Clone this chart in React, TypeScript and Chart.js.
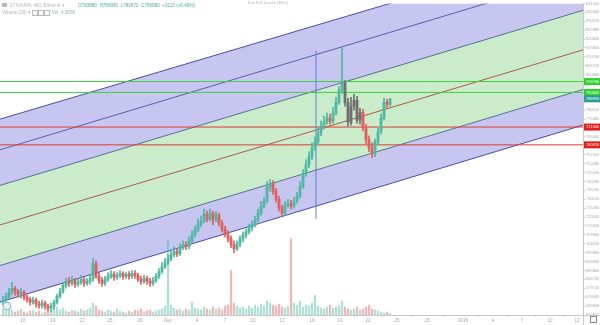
import React, { useEffect, useRef } from "react";
import { Chart, registerables } from "chart.js";

Chart.register(...registerables);

// ---- Candles (ETH/KRW, 8h) ----
const OPEN = [
  671880, 673000, 674680, 677480, 679720, 678040, 676360, 677480, 674680, 673560,
  671880, 673000, 670760, 670200, 671320, 669640, 668520, 669640, 671880, 675240,
  678040, 681400, 683640, 682520, 684200, 681960, 683080, 684760, 682520, 683640,
  685320, 693720, 686440, 684200, 682520, 684760, 686440, 687560, 685880, 687000,
  688120, 686440, 687560, 686440, 688120, 687000, 684760, 683640, 685320, 683640,
  682520, 684200, 686440, 689240, 692040, 694280, 696520, 698760, 700440, 699320,
  702680, 704360, 703240, 706600, 709960, 712760, 715560, 717800, 721720, 718920,
  722280, 718360, 721160, 716680, 713320, 710520, 707720, 704360, 702120, 704920,
  707720, 709960, 711640, 713880, 715560, 718360, 722280, 726200, 729000, 736840,
  739080, 734600, 730120, 725080, 722280, 726760, 727880, 726200, 729000, 731800,
  737400, 744680, 749720, 754200, 759240, 762600, 767640, 771560, 773800, 776040,
  774360, 778840, 785000, 791720, 796200, 785000, 773800, 782760, 786120, 774920,
  779400, 770440, 763720, 759240, 755880, 762600, 768200, 776040, 785000, 783880,
];
const HIGH = [
  675240, 676920, 679720, 683080, 680840, 679160, 679720, 678600, 675800, 674680,
  674680, 674120, 672440, 673000, 672440, 670760, 671320, 673000, 676360, 679720,
  683080, 685320, 685880, 686440, 685320, 684760, 687000, 685880, 685320, 687560,
  696520, 695400, 688680, 685880, 686440, 688680, 689800, 689240, 688680, 689800,
  689240, 688680, 689240, 689800, 689800, 688120, 686440, 687000, 686440, 685320,
  685880, 688120, 690920, 694280, 696520, 698760, 701000, 703240, 702120, 704920,
  706600, 706040, 708840, 712200, 715000, 718920, 720600, 724520, 723400, 724520,
  723400, 723400, 722280, 718360, 715000, 712200, 709400, 706600, 706600, 709400,
  711640, 713320, 716120, 717800, 720600, 724520, 729000, 731240, 740200, 741320,
  740760, 736280, 731800, 726760, 729000, 730120, 729560, 731240, 734040, 740200,
  746920, 752520, 757000, 762040, 765400, 770440, 774360, 777160, 778840, 778280,
  782200, 787800, 793960, 816360, 797320, 787240, 787800, 789480, 788360, 781640,
  781080, 772680, 765960, 762040, 764280, 770440, 778280, 787240, 786680, 786990,
];
const LOW = [
  670200, 671320, 673560, 676360, 675800, 674680, 674120, 673000, 671880, 670200,
  670760, 669080, 668520, 668520, 667960, 666840, 666280, 667960, 670760, 674120,
  676920, 679720, 680840, 681400, 680280, 680840, 681960, 680840, 681400, 681960,
  683640, 685320, 682520, 680840, 681400, 683640, 685320, 684200, 684760, 685880,
  684760, 685320, 684760, 685320, 685320, 683640, 681960, 682520, 681960, 680840,
  681400, 683080, 685320, 688120, 690920, 693160, 695400, 697640, 697640, 698200,
  701560, 701560, 702120, 705480, 708840, 711640, 714440, 716680, 717240, 717800,
  715560, 717240, 715000, 711640, 708840, 706040, 702680, 699880, 701000, 703240,
  706040, 708280, 710520, 712200, 714440, 717240, 721160, 725080, 727880, 734600,
  732920, 728440, 723400, 720600, 721160, 725640, 724520, 725080, 727880, 730680,
  736280, 743000, 748040, 752520, 757560, 760920, 765960, 769880, 772680, 772680,
  773240, 777720, 783880, 790040, 782760, 771560, 772120, 780520, 773240, 772680,
  768760, 761480, 757000, 753640, 754200, 760920, 767080, 774920, 781640, 782670,
];
const CLOSE = [
  673000, 674680, 677480, 679720, 678040, 676360, 677480, 674680, 673560, 671880,
  673000, 670760, 670200, 671320, 669640, 668520, 669640, 671880, 675240, 678040,
  681400, 683640, 682520, 684200, 681960, 683080, 684760, 682520, 683640, 685320,
  693720, 686440, 684200, 682520, 684760, 686440, 687560, 685880, 687000, 688120,
  686440, 687560, 686440, 688120, 687000, 684760, 683640, 685320, 683640, 682520,
  684200, 686440, 689240, 692040, 694280, 696520, 698760, 700440, 699320, 702680,
  704360, 703240, 706600, 709960, 712760, 715560, 717800, 721720, 718920, 722280,
  718360, 721160, 716680, 713320, 710520, 707720, 704360, 702120, 704920, 707720,
  709960, 711640, 713880, 715560, 718360, 722280, 726200, 729000, 736840, 739080,
  734600, 730120, 725080, 722280, 726760, 727880, 726200, 729000, 731800, 737400,
  744680, 749720, 754200, 759240, 762600, 767640, 771560, 773800, 776040, 774360,
  778840, 785000, 791720, 796200, 785000, 773800, 782760, 786120, 774920, 779400,
  770440, 763720, 759240, 755880, 762600, 768200, 776040, 785000, 783880, 786990,
];
const VOLUME = [
  60, 40, 80, 50, 30, 40, 60, 30, 20, 40,
  50, 30, 40, 20, 30, 50, 40, 60, 80, 50,
  70, 40, 30, 50, 40, 30, 60, 40, 50, 70,
  120, 90, 50, 40, 30, 50, 40, 30, 60, 40,
  30, 20, 40, 30, 50, 40, 60, 30, 40, 50,
  30, 40, 50, 60, 90, 750, 100, 70, 50, 60,
  40, 60, 50, 130, 70, 60, 50, 80, 60, 50,
  80, 60, 70, 50, 90, 100, 450, 120, 90, 70,
  80, 60, 90, 70, 100, 80, 110, 90, 140, 120,
  100, 90, 110, 80, 70, 90, 770, 120, 100, 140,
  80, 100, 90, 120, 200, 90, 70, 60, 80, 100,
  70, 80, 90, 140, 80, 60, 50, 60, 80, 50,
  60, 80, 100, 60, 50, 40, 30, 20, 30, 20,
];

// ---- Drawings (channel lines: value at left edge, value at right edge) ----
const CHANNEL_X = [-1, 193.33];
const CH_OUTER = [775480, 873420];
const CH_TOP = [758120, 857520];
const CH_UPPER = [737960, 837080];
const CH_MID = [715560, 814680];
const CH_LOWER = [692600, 792280];
const CH_BOTTOM = [671880, 772120];
const LEVELS_GREEN = [796760, 790600];
const LEVELS_RED = [771000, 760920];
const LAST_PRICE = 786990;
const VLINE_X = 104.33;
const VLINE_Y = [718920, 814120];

// ---- Axes ----
const Y_MIN = 664600;
const Y_MAX = 841000;
const Y_STEP = 5000;
const VOL_MAX = 3150;
const X_MIN = -1;
const X_MAX = 193.33;
const X_TICK_POS = [6.7, 16.7, 26.3, 35.7, 45.7, 55, 64.7, 74, 83.3, 93, 103, 112.3, 121.7, 131.3, 141.3, 153.3, 163.3, 173, 182.3, 191.3];
const X_TICK_LABELS = ["16", "19", "22", "25", "28", "Dec", "4", "7", "10", "13", "16", "19", "22", "25", "28", "2018", "4", "7", "10", "13"];

const SYMBOL_TEXT = "ETH/KRW, 480, Bithumb \u25BE";
const OHLC_TEXT = "O783880  H786990  L782670  C786990  +3110 (+0.40%)";
const VOL_TITLE = "Volume (20) \u25BE";
const VOL_TEXT = "Vol  4.385K";
const TOP_HINT = "Exit Full Screen (ESC)";

const UP = "#4fb7a3";
const DOWN = "#e0605e";
const GREY = "#6f6f6f";
const FONT = '"Liberation Sans", Arial, sans-serif';

export default function App() {
  const ref = useRef<HTMLCanvasElement>(null);

  useEffect(() => {
    document.body.style.margin = "0";
    const n = CLOSE.length;
    const idx = Array.from({ length: n }, (_, i) => i);
    const colors = idx.map((i) => (i >= 114 && i <= 119 ? GREY : CLOSE[i] >= OPEN[i] ? UP : DOWN));
    const volColors = idx.map((i) => (CLOSE[i] >= OPEN[i] ? "rgba(79,183,163,0.45)" : "rgba(224,96,94,0.45)"));

    const chLine = (vals: number[], color: string, fill: any, bg: string) => ({
      type: "line" as const,
      data: [
        { x: CHANNEL_X[0], y: vals[0] },
        { x: CHANNEL_X[1], y: vals[1] },
      ],
      borderColor: color,
      borderWidth: 1,
      pointRadius: 0,
      fill,
      backgroundColor: bg,
      order: 10,
      yAxisID: "y",
    });
    const hLine = (v: number, color: string) => ({
      type: "line" as const,
      data: [
        { x: X_MIN, y: v },
        { x: X_MAX, y: v },
      ],
      borderColor: color,
      borderWidth: 1,
      pointRadius: 0,
      fill: false,
      order: 6,
      yAxisID: "y",
    });

    const BLUE_BAND = "rgb(198,198,240)";
    const GREEN_BAND = "rgb(202,236,202)";

    const overlay = {
      id: "overlay",
      afterDraw(chart: any) {
        const ctx = chart.ctx as CanvasRenderingContext2D;
        const y = chart.scales.y;
        const ca = chart.chartArea;
        ctx.save();
        ctx.strokeStyle = "#c8c8c8";
        ctx.lineWidth = 1;
        ctx.beginPath();
        ctx.moveTo(ca.right, ca.bottom + 0.5);
        ctx.lineTo(600, ca.bottom + 0.5);
        ctx.moveTo(ca.right + 0.5, ca.bottom);
        ctx.lineTo(ca.right + 0.5, 325);
        ctx.stroke();
        ctx.strokeStyle = "#888";
        ctx.strokeRect(590.5, 316.5, 6, 6);
        const tag = (v: number, color: string) => {
          const py = y.getPixelForValue(v);
          ctx.fillStyle = color;
          ctx.fillRect(ca.right + 1, py - 3.5, 16, 7);
          ctx.fillStyle = "#fff";
          ctx.font = "4px " + FONT;
          ctx.textBaseline = "middle";
          ctx.textAlign = "left";
          ctx.fillText(String(v), ca.right + 3, py + 0.3);
        };
        LEVELS_GREEN.forEach((v) => tag(v, "#2ed12e"));
        tag(LAST_PRICE, "#2a9d96");
        LEVELS_RED.forEach((v) => tag(v, "#e0201e"));
        ctx.textBaseline = "middle";
        ctx.textAlign = "left";
        ctx.font = "4.6px " + FONT;
        ctx.fillStyle = "#b8b8b8";
        ctx.fillRect(2, 3, 5, 4);
        ctx.fillText(SYMBOL_TEXT, 10, 5.5);
        ctx.fillStyle = "#49aaa2";
        ctx.fillText(OHLC_TEXT, 78, 5.5);
        ctx.fillStyle = "#b0b0b0";
        ctx.fillText(VOL_TITLE, 2, 13);
        ctx.strokeStyle = "#bbb";
        for (let k = 0; k < 3; k++) ctx.strokeRect(32.5 + k * 6, 10.5, 5, 5);
        ctx.fillStyle = "#8fb9b5";
        ctx.fillText(VOL_TEXT, 52, 13);
        ctx.fillStyle = "#b0b0b0";
        ctx.font = "4px " + FONT;
        ctx.textAlign = "center";
        ctx.fillText(TOP_HINT, 268, 3);
        ctx.strokeStyle = "#8fb2cf";
        ctx.fillStyle = "rgba(230,240,248,0.9)";
        ctx.beginPath();
        ctx.arc(7, 306, 4, 0, Math.PI * 2);
        ctx.fill();
        ctx.stroke();
        ctx.restore();
      },
    };

    const chart = new Chart(ref.current as HTMLCanvasElement, {
      type: "bar",
      data: {
        datasets: [
          chLine(CH_OUTER, "#4a4aa6", "+1", BLUE_BAND),
          chLine(CH_TOP, "#5a5ab0", "+1", BLUE_BAND),
          chLine(CH_UPPER, "#56708e", "+1", GREEN_BAND),
          chLine(CH_MID, "#b0564a", "+1", GREEN_BAND),
          chLine(CH_LOWER, "#56708e", "+1", BLUE_BAND),
          chLine(CH_BOTTOM, "#4a4aa6", false, "transparent"),
          ...LEVELS_GREEN.map((v) => hLine(v, "#3bd23b")),
          ...LEVELS_RED.map((v) => hLine(v, "#e03a36")),
          {
            type: "line" as const,
            data: [
              { x: VLINE_X, y: VLINE_Y[0] },
              { x: VLINE_X, y: VLINE_Y[1] },
            ],
            borderColor: "#5b82d8",
            borderWidth: 1,
            pointRadius: 0,
            fill: false,
            order: 5,
            yAxisID: "y",
          },
          {
            type: "bar" as const,
            data: idx.map((i) => ({ x: i, y: VOLUME[i] })),
            backgroundColor: volColors,
            barThickness: 1.6,
            grouped: false,
            order: 4,
            yAxisID: "yv",
          },
          {
            type: "bar" as const,
            data: idx.map((i) => ({ x: i, y: [LOW[i], HIGH[i]] })),
            backgroundColor: colors,
            barThickness: 1,
            grouped: false,
            order: 2,
            yAxisID: "y",
          },
          {
            type: "bar" as const,
            data: idx.map((i) => ({ x: i, y: [OPEN[i], CLOSE[i]] })),
            backgroundColor: colors,
            barThickness: 2.2,
            grouped: false,
            order: 1,
            yAxisID: "y",
          },
        ] as any,
      },
      options: {
        responsive: false,
        animation: false,
        devicePixelRatio: 1,
        layout: { padding: 0 },
        plugins: {
          legend: { display: false },
          tooltip: { enabled: false },
          filler: { drawTime: "beforeDatasetsDraw" } as any,
        },
        scales: {
          x: {
            type: "linear",
            min: X_MIN,
            max: X_MAX,
            offset: false,
            grid: { display: true, drawOnChartArea: false, tickLength: 2, color: "#ccc" },
            border: { display: true, color: "#c8c8c8" },
            ticks: {
              autoSkip: false,
              maxRotation: 0,
              padding: 1,
              color: "#a8a8a8",
              font: { size: 4.5, family: FONT },
              callback: (_v: any, i: number) => X_TICK_LABELS[i] ?? "",
            },
            afterBuildTicks: (s: any) => {
              s.ticks = X_TICK_POS.map((v) => ({ value: v }));
            },
            afterFit: (s: any) => {
              s.height = 10;
            },
          },
          y: {
            type: "linear",
            position: "right",
            min: Y_MIN,
            max: Y_MAX,
            grid: { display: true, drawOnChartArea: false, tickLength: 2, color: "#c0c0c0" },
            border: { display: true, color: "#c8c8c8" },
            ticks: {
              stepSize: Y_STEP,
              maxTicksLimit: 100,
              autoSkip: false,
              includeBounds: false,
              padding: 1,
              color: "#a8a8a8",
              font: { size: 4, family: FONT },
              callback: (v: any) => String(v),
            },
            afterFit: (s: any) => {
              s.width = 17;
            },
          },
          yv: {
            type: "linear",
            display: false,
            min: 0,
            max: VOL_MAX,
          },
        },
      } as any,
      plugins: [overlay],
    });
    return () => chart.destroy();
  }, []);

  return (
    <div style={{ width: 600, height: 325, background: "#fff" }}>
      <canvas ref={ref} width={600} height={325} style={{ display: "block" }} />
    </div>
  );
}
